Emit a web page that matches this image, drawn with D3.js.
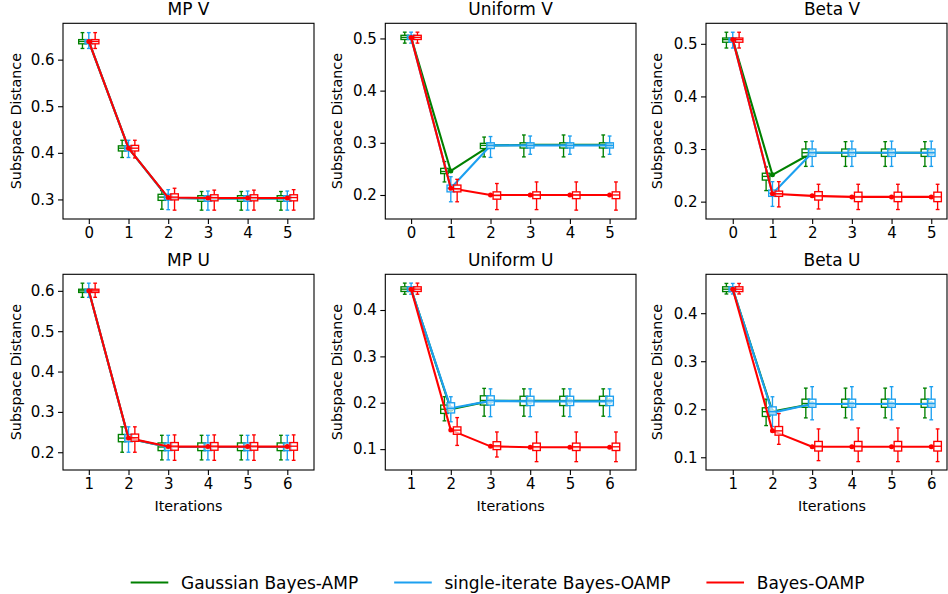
<!DOCTYPE html>
<html>
<head>
<meta charset="utf-8">
<script src="https://cdn.jsdelivr.net/npm/d3@7"></script>
<style>
body{margin:0;background:#fff;}
svg{font-family:"DejaVu Sans",sans-serif;}
</style>
</head>
<body>
<svg id="fig" width="948" height="594"></svg>
<script>
// method names / colours
var methods=["Gaussian Bayes-AMP","single-iterate Bayes-OAMP","Bayes-OAMP"];
var colors=["#008000","#1ca0f0","#ff0000"];

var itersV=[0,1,2,3,4,5];
var itersU=[1,2,3,4,5,6];

// each row: [mean, whisker low, q1, median, q3, whisker high]
var mpV_amp=[[0.639,0.624,0.634,0.639,0.643,0.658],[0.410,0.390,0.404,0.410,0.415,0.427],[0.303,0.279,0.298,0.305,0.311,0.319],[0.302,0.277,0.296,0.302,0.308,0.317],[0.302,0.277,0.296,0.302,0.308,0.317],[0.302,0.277,0.296,0.302,0.308,0.317]];
var mpV_sio=[[0.639,0.624,0.634,0.639,0.643,0.658],[0.410,0.390,0.404,0.410,0.415,0.427],[0.303,0.278,0.299,0.305,0.311,0.321],[0.302,0.277,0.296,0.302,0.308,0.318],[0.302,0.277,0.296,0.302,0.308,0.318],[0.302,0.277,0.296,0.302,0.308,0.318]];
var mpV_oamp=[[0.639,0.624,0.634,0.639,0.643,0.658],[0.410,0.389,0.404,0.410,0.416,0.427],[0.304,0.277,0.299,0.305,0.312,0.324],[0.303,0.277,0.297,0.304,0.310,0.320],[0.303,0.277,0.297,0.304,0.310,0.320],[0.303,0.277,0.297,0.304,0.310,0.321]];

var uniV_amp=[[0.502,0.491,0.498,0.502,0.506,0.512],[0.246,0.225,0.241,0.245,0.251,0.264],[0.295,0.273,0.289,0.295,0.299,0.311],[0.296,0.273,0.290,0.296,0.300,0.315],[0.296,0.273,0.290,0.296,0.300,0.315],[0.296,0.273,0.290,0.296,0.300,0.315]];
var uniV_sio=[[0.502,0.491,0.498,0.502,0.506,0.512],[0.213,0.187,0.206,0.213,0.219,0.235],[0.295,0.272,0.289,0.295,0.300,0.312],[0.295,0.278,0.290,0.295,0.300,0.313],[0.295,0.278,0.290,0.295,0.300,0.313],[0.295,0.278,0.290,0.295,0.300,0.313]];
var uniV_oamp=[[0.502,0.491,0.498,0.502,0.506,0.512],[0.213,0.187,0.206,0.212,0.219,0.230],[0.200,0.172,0.192,0.199,0.206,0.222],[0.200,0.172,0.193,0.200,0.206,0.225],[0.200,0.171,0.193,0.200,0.206,0.225],[0.200,0.171,0.193,0.200,0.206,0.225]];

var betaV_amp=[[0.508,0.492,0.503,0.508,0.511,0.522],[0.251,0.221,0.241,0.248,0.254,0.266],[0.293,0.267,0.286,0.293,0.300,0.314],[0.293,0.267,0.286,0.293,0.300,0.314],[0.293,0.267,0.286,0.293,0.300,0.314],[0.293,0.267,0.286,0.293,0.300,0.314]];
var betaV_sio=[[0.508,0.492,0.503,0.508,0.511,0.522],[0.215,0.191,0.210,0.216,0.222,0.238],[0.293,0.267,0.286,0.293,0.300,0.315],[0.293,0.267,0.286,0.293,0.300,0.315],[0.293,0.267,0.286,0.293,0.300,0.315],[0.293,0.267,0.286,0.293,0.300,0.315]];
var betaV_oamp=[[0.508,0.492,0.503,0.508,0.511,0.522],[0.215,0.190,0.210,0.215,0.220,0.238],[0.211,0.186,0.203,0.211,0.219,0.233],[0.209,0.185,0.200,0.209,0.218,0.233],[0.209,0.185,0.200,0.209,0.218,0.233],[0.209,0.185,0.200,0.209,0.218,0.233]];

var mpU_amp=[[0.600,0.584,0.596,0.600,0.604,0.619],[0.234,0.200,0.226,0.235,0.244,0.263],[0.213,0.181,0.204,0.213,0.223,0.242],[0.213,0.181,0.204,0.213,0.223,0.242],[0.213,0.181,0.204,0.213,0.223,0.242],[0.213,0.181,0.204,0.213,0.223,0.242]];
var mpU_sio=[[0.600,0.584,0.596,0.600,0.604,0.619],[0.234,0.200,0.226,0.235,0.244,0.263],[0.213,0.181,0.204,0.213,0.223,0.242],[0.213,0.181,0.204,0.213,0.223,0.242],[0.213,0.181,0.204,0.213,0.223,0.242],[0.213,0.181,0.204,0.213,0.223,0.242]];
var mpU_oamp=[[0.600,0.584,0.596,0.600,0.604,0.619],[0.235,0.200,0.227,0.236,0.245,0.263],[0.214,0.180,0.205,0.215,0.224,0.243],[0.214,0.180,0.205,0.215,0.224,0.243],[0.214,0.180,0.205,0.215,0.224,0.243],[0.214,0.180,0.205,0.215,0.224,0.243]];

var uniU_amp=[[0.445,0.434,0.440,0.445,0.450,0.458],[0.186,0.161,0.177,0.186,0.195,0.213],[0.204,0.171,0.195,0.205,0.215,0.231],[0.204,0.171,0.194,0.204,0.214,0.230],[0.204,0.171,0.194,0.204,0.214,0.230],[0.204,0.171,0.194,0.204,0.214,0.230]];
var uniU_sio=[[0.445,0.434,0.440,0.445,0.450,0.458],[0.188,0.159,0.178,0.188,0.200,0.213],[0.204,0.170,0.195,0.205,0.215,0.230],[0.203,0.170,0.194,0.204,0.214,0.230],[0.203,0.170,0.194,0.204,0.214,0.230],[0.203,0.170,0.194,0.204,0.214,0.230]];
var uniU_oamp=[[0.445,0.434,0.440,0.445,0.450,0.458],[0.141,0.108,0.132,0.141,0.148,0.168],[0.106,0.083,0.099,0.107,0.116,0.137],[0.104,0.073,0.097,0.105,0.113,0.137],[0.104,0.073,0.097,0.105,0.113,0.137],[0.104,0.073,0.097,0.105,0.113,0.137]];

var betaU_amp=[[0.450,0.440,0.445,0.450,0.455,0.462],[0.195,0.166,0.185,0.195,0.203,0.221],[0.211,0.182,0.204,0.212,0.221,0.244],[0.211,0.182,0.204,0.212,0.221,0.244],[0.211,0.182,0.204,0.212,0.221,0.244],[0.211,0.182,0.204,0.212,0.221,0.244]];
var betaU_sio=[[0.450,0.440,0.445,0.450,0.455,0.462],[0.193,0.164,0.188,0.195,0.205,0.226],[0.211,0.178,0.204,0.212,0.221,0.247],[0.211,0.178,0.204,0.212,0.221,0.247],[0.211,0.178,0.204,0.212,0.221,0.247],[0.211,0.178,0.204,0.212,0.221,0.247]];
var betaU_oamp=[[0.450,0.440,0.445,0.450,0.455,0.462],[0.155,0.127,0.146,0.155,0.164,0.191],[0.122,0.093,0.113,0.123,0.133,0.159],[0.122,0.091,0.113,0.123,0.133,0.161],[0.122,0.091,0.113,0.123,0.133,0.161],[0.122,0.091,0.113,0.123,0.133,0.159]];

var titles=["MP V","Uniform V","Beta V","MP U","Uniform U","Beta U"];
var yTicksList=[[0.3,0.4,0.5,0.6],[0.2,0.3,0.4,0.5],[0.2,0.3,0.4,0.5],[0.2,0.3,0.4,0.5,0.6],[0.1,0.2,0.3,0.4],[0.1,0.2,0.3,0.4]];
var yDomains=[[0.258,0.678],[0.154,0.529],[0.167,0.539],[0.156,0.641],[0.055,0.477],[0.0735,0.481]];

var panelData=[
  [mpV_amp,mpV_sio,mpV_oamp],[uniV_amp,uniV_sio,uniV_oamp],[betaV_amp,betaV_sio,betaV_oamp],
  [mpU_amp,mpU_sio,mpU_oamp],[uniU_amp,uniU_sio,uniU_oamp],[betaU_amp,betaU_sio,betaU_oamp]
];

// layout
var colX=[[63,314],[385.3,636],[706,947]];
var rowY=[[23.3,219],[274.3,470]];
var unitPx=39.7;
var offsets=[-0.16,0,0.16];
var boxW=0.19;

var svg=d3.select("#fig");

panelData.forEach(function(series,p){
  var r=Math.floor(p/3), c=p%3;
  var iters = r==0 ? itersV : itersU;
  var x0=colX[c][0], x1=colX[c][1];
  var y0=rowY[r][0], y1=rowY[r][1];
  var left = c==2 ? -0.674 : -0.65;
  var xmin=iters[0]+left;
  var x=d3.scaleLinear().domain([xmin, xmin+(x1-x0)/unitPx]).range([x0,x1]);
  var y=d3.scaleLinear().domain(yDomains[p]).range([y1,y0]);

  var g=svg.append("g");

  series.forEach(function(s,m){
    var col=colors[m];
    var line=d3.line()
      .x(function(d,i){return x(iters[i]);})
      .y(function(d){return y(d[0]);});
    g.append("path")
      .datum(s)
      .attr("d",line)
      .attr("fill","none")
      .attr("stroke",col)
      .attr("stroke-width",2.1)
      .attr("stroke-linejoin","round");
    g.selectAll(null)
      .data(s).enter()
      .append("circle")
      .attr("cx",function(d,i){return x(iters[i]);})
      .attr("cy",function(d){return y(d[0]);})
      .attr("r",2.5)
      .attr("fill",col);

    s.forEach(function(d,i){
      var cx=iters[i]+offsets[m];
      var bl=x(cx-boxW/2), br=x(cx+boxW/2);
      var cl=x(cx-boxW/4), cr=x(cx+boxW/4);
      var bx=g.append("g").attr("stroke",col).attr("stroke-width",1.35).attr("fill","none");
      bx.append("line").attr("x1",x(cx)).attr("x2",x(cx)).attr("y1",y(d[1])).attr("y2",y(d[2]));
      bx.append("line").attr("x1",x(cx)).attr("x2",x(cx)).attr("y1",y(d[4])).attr("y2",y(d[5]));
      bx.append("line").attr("x1",cl).attr("x2",cr).attr("y1",y(d[1])).attr("y2",y(d[1]));
      bx.append("line").attr("x1",cl).attr("x2",cr).attr("y1",y(d[5])).attr("y2",y(d[5]));
      bx.append("rect")
        .attr("x",bl).attr("width",br-bl)
        .attr("y",y(d[4])).attr("height",y(d[2])-y(d[4]))
        .attr("fill","white").attr("fill-opacity",0.6);
      bx.append("line").attr("x1",bl).attr("x2",br).attr("y1",y(d[3])).attr("y2",y(d[3]));
    });
  });

  // axes
  var yAxis=d3.axisLeft(y).tickValues(yTicksList[p]).tickSize(5).tickPadding(3.5).tickFormat(d3.format(".1f"));
  var gy=g.append("g").attr("transform","translate("+x0+",0)").call(yAxis);
  var xAxis=d3.axisBottom(x).tickValues(iters).tickSize(5).tickPadding(3.5).tickFormat(d3.format("d"));
  var gx=g.append("g").attr("transform","translate(0,"+y1+")").call(xAxis);
  [gx,gy].forEach(function(a){
    a.select(".domain").remove();
    a.selectAll("text").attr("font-size","15px").attr("font-family","DejaVu Sans").attr("fill","#000");
    a.selectAll("line").attr("stroke","#000").attr("stroke-width",1.1);
  });

  g.append("rect")
    .attr("x",x0).attr("y",y0).attr("width",x1-x0).attr("height",y1-y0)
    .attr("fill","none").attr("stroke","#000").attr("stroke-width",1.1);

  g.append("text")
    .attr("x",(colX[c][0]+ (c==2 ? 958 : x1))/2).attr("y",y0-8.3)
    .attr("text-anchor","middle").attr("font-size","17px")
    .text(titles[p]);

  var ylx=[21,341.5,662][c];
  g.append("text")
    .attr("transform","translate("+ylx+","+((y0+y1)/2)+") rotate(-90)")
    .attr("text-anchor","middle").attr("font-size","14.3px")
    .text("Subspace Distance");

  if(r==1){
    g.append("text")
      .attr("x",(colX[c][0]+ (c==2 ? 958 : x1))/2).attr("y",511)
      .attr("text-anchor","middle").attr("font-size","14.3px")
      .text("Iterations");
  }
});

// legend
var lx=130.7;
methods.forEach(function(name,m){
  svg.append("line")
    .attr("x1",lx).attr("x2",lx+37.6).attr("y1",582.5).attr("y2",582.5)
    .attr("stroke",colors[m]).attr("stroke-width",2.1);
  var t=svg.append("text")
    .attr("x",lx+50.3).attr("y",588.5)
    .attr("font-size","17px")
    .text(name);
  lx=lx+50.3+t.node().getComputedTextLength()+36;
});
</script>
</body>
</html>
